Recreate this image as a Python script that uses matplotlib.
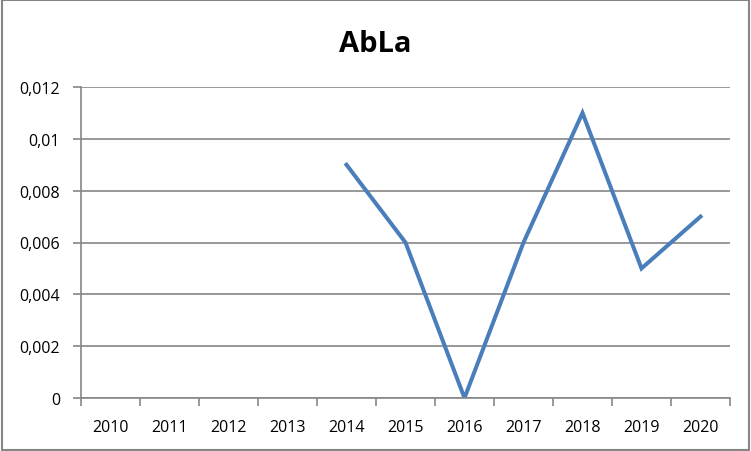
import numpy as np
import matplotlib.pyplot as plt

years = ['2010', '2011', '2012', '2013', '2014', '2015', '2016', '2017', '2018', '2019', '2020']
abla = [np.nan, np.nan, np.nan, np.nan, 0.009, 0.006, 0.0, 0.006, 0.011, 0.005, 0.007]
yticks = [0, 0.002, 0.004, 0.006, 0.008, 0.01, 0.012]
ylabels = ['0', '0,002', '0,004', '0,006', '0,008', '0,01', '0,012']

plt.rcParams['font.family'] = ['Open Sans', 'DejaVu Sans']
grey = '#868686'

fig = plt.figure(figsize=(7.51, 4.52), dpi=100)
ax = fig.add_axes([81 / 751, 1 - 399 / 452, 649 / 751, 311 / 452])

x = np.arange(len(years))
ax.plot(x, abla, color='#4A7EBB', linewidth=2.9, solid_joinstyle='miter')

ax.set_xlim(-0.5, len(years) - 0.5)
ax.set_ylim(0, 0.012)
ax.set_yticks(yticks)
ax.set_yticklabels(ylabels, fontsize=11.5)
ax.set_xticks(x)
ax.set_xticklabels(years, fontsize=11.5)
ax.tick_params(axis='x', length=0, pad=15)
ax.set_xticks(np.arange(-0.5, len(years)), minor=True)
ax.tick_params(axis='x', which='minor', length=6, color=grey, width=1.2)
ax.tick_params(axis='y', length=6, color=grey, width=1.2, pad=9)
ax.grid(axis='y', color=grey, linewidth=1.2)
ax.set_axisbelow(True)
for s in ['top', 'right']:
    ax.spines[s].set_visible(False)
for s in ['left', 'bottom']:
    ax.spines[s].set_color(grey)
    ax.spines[s].set_linewidth(1.2)

fig.text(0.5, 1 - 45 / 452, 'AbLa', ha='center', va='center', fontsize=21, fontweight='bold')
fig.patches.append(plt.Rectangle((0.002, 0.003), 0.995, 0.994, transform=fig.transFigure,
                                 fill=False, edgecolor=grey, linewidth=1.5))

fig.savefig('out.png', dpi=100)
